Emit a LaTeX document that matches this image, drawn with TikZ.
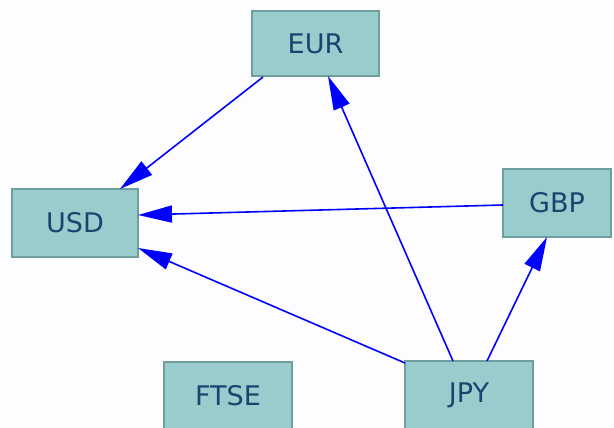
\documentclass[tikz,border=0pt]{standalone}
\usepackage{fontspec}
\setmainfont{DejaVu Sans}
\usetikzlibrary{arrows.meta}
\definecolor{boxfill}{HTML}{99CCCC}
\definecolor{boxline}{HTML}{6E9E9E}
\definecolor{boxtext}{HTML}{1A4470}
\definecolor{edgeblue}{HTML}{0000FF}
\definecolor{bgcol}{HTML}{FDFDFF}
\begin{document}
\begin{tikzpicture}[x=1pt,y=-1pt,
  cur/.style={draw=boxline, fill=boxfill, line width=1.8pt, text=boxtext,
    inner sep=0pt, outer sep=0pt, font=\fontsize{27}{32}\selectfont},
  link/.style={draw=edgeblue, line width=1.6pt,
    -{Triangle[length=34pt,width=17pt]}}]
\fill[bgcol] (0,0) rectangle (614,428);
\useasboundingbox (0,0) rectangle (614,428);
\node[cur, minimum width=127pt, minimum height=65pt] (eur) at (315.5,43.5) {EUR};
\node[cur, minimum width=126pt, minimum height=68pt] (usd) at (75,223) {USD};
\node[cur, minimum width=108pt, minimum height=68pt] (gbp) at (557,203) {GBP};
\node[cur, minimum width=128pt, minimum height=68pt] (ftse) at (228,396) {FTSE};
\node[cur, minimum width=128pt, minimum height=68pt] (jpy) at (469,395) {JPY};
\draw[link] ([xshift=11pt,yshift=-1pt]eur.south west) -- ([xshift=-18pt]usd.north east);
\draw[link] ([yshift=-2pt]gbp.west) -- ([yshift=8pt]usd.east);
\draw[link] ([yshift=-2pt]jpy.north west) -- ([yshift=9pt]usd.south east);
\draw[link] ([xshift=48pt]jpy.north west) -- ([xshift=76pt]eur.south west);
\draw[link] ([xshift=82pt]jpy.north west) -- ([xshift=44pt]gbp.south west);
\end{tikzpicture}
\end{document}
